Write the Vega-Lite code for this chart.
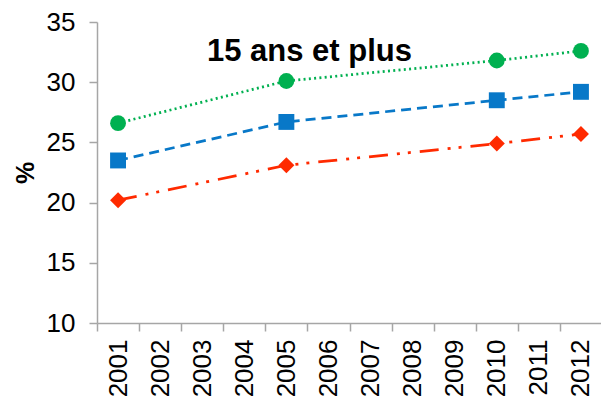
{
  "$schema": "https://vega.github.io/schema/vega-lite/v6.json",
  "width": 505,
  "height": 301,
  "autosize": {"type": "none"},
  "padding": {"left": 97, "top": 22, "right": 0, "bottom": 81},
  "background": "white",
  "title": {
    "text": "15 ans et plus",
    "font": "Liberation Sans",
    "fontSize": 31,
    "fontWeight": "bold",
    "color": "black",
    "anchor": "middle",
    "frame": "group",
    "baseline": "alphabetic",
    "offset": 0,
    "dx": -40,
    "dy": 83
  },
  "data": {
    "values": [
      {"year": "2001", "serie": "Série 1", "pct": 26.6},
      {"year": "2005", "serie": "Série 1", "pct": 30.1},
      {"year": "2010", "serie": "Série 1", "pct": 31.8},
      {"year": "2012", "serie": "Série 1", "pct": 32.6},
      {"year": "2001", "serie": "Série 2", "pct": 23.5},
      {"year": "2005", "serie": "Série 2", "pct": 26.7},
      {"year": "2010", "serie": "Série 2", "pct": 28.5},
      {"year": "2012", "serie": "Série 2", "pct": 29.2},
      {"year": "2001", "serie": "Série 3", "pct": 20.2},
      {"year": "2005", "serie": "Série 3", "pct": 23.1},
      {"year": "2010", "serie": "Série 3", "pct": 24.9},
      {"year": "2012", "serie": "Série 3", "pct": 25.7}
    ]
  },
  "encoding": {
    "x": {
      "field": "year",
      "type": "ordinal",
      "title": null,
      "scale": {
        "type": "band",
        "paddingInner": 0,
        "paddingOuter": 0,
        "domain": ["2001", "2002", "2003", "2004", "2005", "2006", "2007", "2008", "2009", "2010", "2011", "2012"]
      },
      "axis": {"labelAngle": -90, "tickBand": "extent", "labelPadding": 8}
    },
    "y": {
      "field": "pct",
      "type": "quantitative",
      "title": "%",
      "scale": {"domain": [10, 35], "nice": false, "zero": false},
      "axis": {"values": [10, 15, 20, 25, 30, 35], "labelPadding": 14, "titlePadding": 8}
    },
    "color": {
      "field": "serie",
      "type": "nominal",
      "legend": null,
      "scale": {"domain": ["Série 1", "Série 2", "Série 3"], "range": ["#00b050", "#0878c8", "#ff2a00"]}
    }
  },
  "layer": [
    {
      "mark": {"type": "line", "strokeWidth": 2.75},
      "encoding": {
        "strokeDash": {
          "field": "serie",
          "type": "nominal",
          "legend": null,
          "scale": {"domain": ["Série 1", "Série 2", "Série 3"], "range": [[2, 3.3], [10, 6], [19, 9, 3, 8, 3, 9]]}
        }
      }
    },
    {
      "mark": {"type": "point", "filled": true, "opacity": 1},
      "encoding": {
        "shape": {
          "field": "serie",
          "type": "nominal",
          "legend": null,
          "scale": {"domain": ["Série 1", "Série 2", "Série 3"], "range": ["circle", "square", "diamond"]}
        },
        "size": {
          "field": "serie",
          "type": "nominal",
          "legend": null,
          "scale": {"domain": ["Série 1", "Série 2", "Série 3"], "range": [250, 256, 300]}
        }
      }
    }
  ],
  "config": {
    "view": {"stroke": null},
    "font": "Liberation Sans",
    "axis": {
      "grid": false,
      "domainColor": "#a6a6a6",
      "domainWidth": 1.5,
      "tickColor": "#a6a6a6",
      "tickWidth": 1.5,
      "tickSize": 8,
      "labelFont": "Liberation Sans",
      "labelFontSize": 26,
      "labelColor": "black",
      "titleFont": "Liberation Sans",
      "titleFontSize": 25,
      "titleFontWeight": "bold",
      "titleColor": "black"
    }
  }
}
